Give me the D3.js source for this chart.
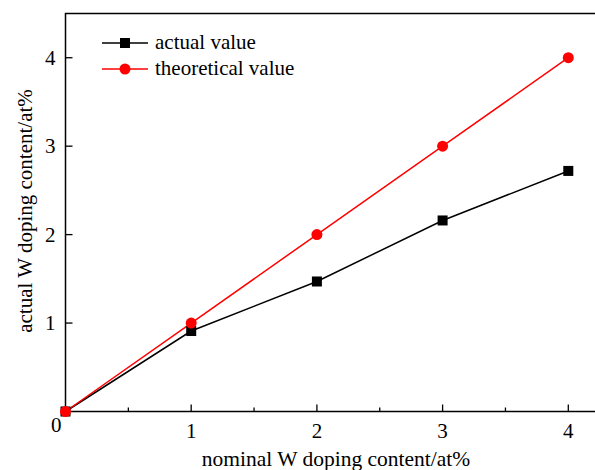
<!DOCTYPE html>
<html>
<head>
<meta charset="utf-8">
<script src="https://cdn.jsdelivr.net/npm/d3@7/dist/d3.min.js"></script>
<style>
  body { margin: 0; background: #fff; }
  svg { display: block; }
  text { font-family: "Liberation Serif", "Times New Roman", serif; fill: #000; }
</style>
</head>
<body>
<svg id="chart" width="595" height="470"></svg>
<script>
// nominal W content (at%) and measured / theoretical values
var nominal = [0, 1, 2, 3, 4]
  , actualValues = [0, 0.91, 1.47, 2.16, 2.72]
  , theoreticalValues = [0, 1, 2, 3, 4]
  , xTicks = [1, 2, 3, 4]
  , xMinorTicks = [0.5, 1.5, 2.5, 3.5]
  , yTicks = [1, 2, 3, 4]

var svg = d3.select('svg#chart')
  , plotLeft = 65.5, plotTop = 13.5, plotBottom = 411.5
  , x = d3.scaleLinear().domain([0, 4.3]).range([plotLeft, plotLeft + 4.3 * 125.7])
  , y = d3.scaleLinear().domain([0, 4.5]).range([plotBottom, plotTop])

// frame (right side runs off the picture)
svg.append('rect')
  .attr('x', x(0)).attr('y', y(4.5))
  .attr('width', x(4.3) - x(0)).attr('height', y(0) - y(4.5))
  .attr('fill', 'none').attr('stroke', '#000').attr('stroke-width', 1.5)

// ticks point inward
svg.selectAll('line.xtick').data(xTicks)
  .enter().append('line').attr('class', 'xtick')
  .attr('x1', function(d) { return x(d) }).attr('x2', function(d) { return x(d) })
  .attr('y1', y(0)).attr('y2', y(0) - 7)
  .attr('stroke', '#000').attr('stroke-width', 1.3)

svg.selectAll('line.xminor').data(xMinorTicks)
  .enter().append('line').attr('class', 'xminor')
  .attr('x1', function(d) { return x(d) }).attr('x2', function(d) { return x(d) })
  .attr('y1', y(0)).attr('y2', y(0) - 4)
  .attr('stroke', '#000').attr('stroke-width', 1.3)

svg.selectAll('line.ytick').data(yTicks)
  .enter().append('line').attr('class', 'ytick')
  .attr('x1', x(0)).attr('x2', x(0) + 7)
  .attr('y1', function(d) { return y(d) }).attr('y2', function(d) { return y(d) })
  .attr('stroke', '#000').attr('stroke-width', 1.3)

svg.selectAll('text.xlabel').data(xTicks)
  .enter().append('text').attr('class', 'xlabel')
  .attr('x', function(d) { return x(d) }).attr('y', y(0) + 26)
  .attr('text-anchor', 'middle').attr('font-size', 21)
  .text(function(d) { return d })

svg.selectAll('text.ylabel').data(yTicks)
  .enter().append('text').attr('class', 'ylabel')
  .attr('x', x(0) - 10).attr('y', function(d) { return y(d) + 7 })
  .attr('text-anchor', 'end').attr('font-size', 21)
  .text(function(d) { return d })

// shared origin label
svg.append('text')
  .attr('x', x(0) - 4).attr('y', y(0) + 20)
  .attr('text-anchor', 'end').attr('font-size', 21)
  .text('0')

svg.append('text')
  .attr('x', 336).attr('y', 466)
  .attr('text-anchor', 'middle').attr('font-size', 21.5)
  .text('nominal W doping content/at%')

svg.append('text')
  .attr('transform', 'translate(32,211) rotate(-90)')
  .attr('text-anchor', 'middle').attr('font-size', 21)
  .text('actual W doping content/at%')

var line = function(values) {
  return d3.line()
    .x(function(d, i) { return x(nominal[i]) })
    .y(function(d) { return y(d) })(values)
}

svg.append('path').attr('d', line(actualValues))
  .attr('fill', 'none').attr('stroke', '#000').attr('stroke-width', 1.5)
svg.append('path').attr('d', line(theoreticalValues))
  .attr('fill', 'none').attr('stroke', '#ff0000').attr('stroke-width', 1.5)

svg.selectAll('rect.actual').data(actualValues)
  .enter().append('rect').attr('class', 'actual')
  .attr('x', function(d, i) { return x(nominal[i]) - 5 })
  .attr('y', function(d) { return y(d) - 5 })
  .attr('width', 10).attr('height', 10).attr('fill', '#000')

svg.selectAll('circle.theory').data(theoreticalValues)
  .enter().append('circle').attr('class', 'theory')
  .attr('cx', function(d, i) { return x(nominal[i]) })
  .attr('cy', function(d) { return y(d) })
  .attr('r', 5.5).attr('fill', '#ff0000')

// legend
var legend = svg.append('g').attr('transform', 'translate(102,43)')
legend.append('line').attr('x1', 0).attr('x2', 46).attr('y1', 0).attr('y2', 0)
  .attr('stroke', '#000').attr('stroke-width', 1.5)
legend.append('rect').attr('x', 18).attr('y', -5).attr('width', 10).attr('height', 10).attr('fill', '#000')
legend.append('text').attr('x', 53).attr('y', 6).attr('font-size', 21).text('actual value')
legend.append('line').attr('x1', 0).attr('x2', 46).attr('y1', 26).attr('y2', 26)
  .attr('stroke', '#ff0000').attr('stroke-width', 1.5)
legend.append('circle').attr('cx', 23).attr('cy', 26).attr('r', 5.5).attr('fill', '#ff0000')
legend.append('text').attr('x', 53).attr('y', 32).attr('font-size', 21).text('theoretical value')
</script>
</body>
</html>
